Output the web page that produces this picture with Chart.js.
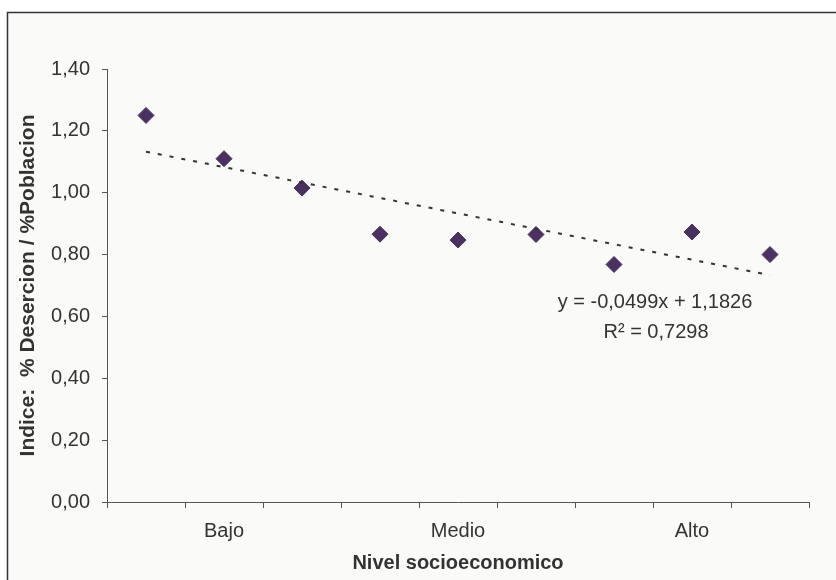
<!DOCTYPE html>
<html>
<head>
<meta charset="utf-8">
<script src="https://cdn.jsdelivr.net/npm/chart.js@4.4.1/dist/chart.umd.min.js"></script>
<style>
  html, body { margin: 0; padding: 0; background: #ffffff; }
  canvas { display: block; }
</style>
</head>
<body>
<canvas id="chart" width="836" height="580"></canvas>
<script>
// categories (only every third one is labelled, like the original sheet)
const categories = ['', 'Bajo', '', '', 'Medio', '', '', 'Alto', ''];
// Indice: % desercion / % poblacion
const indexValues = [1.25, 1.11, 1.015, 0.866, 0.847, 0.865, 0.768, 0.873, 0.80];
const yTicks = [0, 0.2, 0.4, 0.6, 0.8, 1.0, 1.2, 1.4];
// linear trend as printed on the chart
const TREND_SLOPE = -0.0499;
const TREND_INTERCEPT = 1.1826;
const TREND_R2 = 0.7298;

const TEXT = '#333333';
const AXIS = '#555555';
const MARKER = '#4b3160';
const FONT = '"Liberation Sans", Arial, sans-serif';

const fmt = v => v.toFixed(2).replace('.', ',');
const fmt4 = v => v.toFixed(4).replace('.', ',');

// trend only at both ends, the line spans the gap
const trendValues = categories.map((c, i) =>
  (i === 0 || i === categories.length - 1) ? TREND_INTERCEPT + TREND_SLOPE * (i + 1) : null
);

/* frame + background */
const framePlugin = {
  id: 'frame',
  beforeDraw(chart) {
    const ctx = chart.ctx;
    ctx.save();
    ctx.fillStyle = '#ffffff';
    ctx.fillRect(0, 0, chart.width, chart.height);
    ctx.fillStyle = '#fafaf8';
    ctx.fillRect(8, 13, chart.width - 8, chart.height - 13);
    ctx.strokeStyle = '#333333';
    ctx.lineWidth = 1.5;
    ctx.beginPath();
    ctx.moveTo(7.5, chart.height);
    ctx.lineTo(7.5, 12.5);
    ctx.lineTo(chart.width, 12.5);
    ctx.stroke();
    ctx.restore();
  }
};

/* equation label */
const equationPlugin = {
  id: 'equation',
  afterDraw(chart) {
    const ctx = chart.ctx;
    const sign = TREND_INTERCEPT >= 0 ? '+' : '-';
    ctx.save();
    ctx.fillStyle = TEXT;
    ctx.font = '20px ' + FONT;
    ctx.textAlign = 'center';
    ctx.textBaseline = 'middle';
    ctx.fillText(`y = ${fmt4(TREND_SLOPE)}x ${sign} ${fmt4(Math.abs(TREND_INTERCEPT))}`, 655, 302);
    ctx.fillText(`R² = ${fmt4(TREND_R2)}`, 656, 332);
    ctx.restore();
  }
};

new Chart(document.getElementById('chart'), {
  type: 'line',
  data: {
    labels: categories,
    datasets: [
      {
        data: trendValues,
        spanGaps: true,
        borderColor: '#333333',
        borderWidth: 2,
        borderDash: [4, 8],
        pointRadius: 0,
        fill: false,
        order: 0
      },
      {
        data: indexValues,
        showLine: false,
        pointStyle: 'rectRot',
        pointRadius: 8,
        pointBackgroundColor: MARKER,
        pointBorderColor: MARKER,
        pointBorderWidth: 1,
        order: 1
      }
    ]
  },
  options: {
    responsive: false,
    animation: false,
    layout: { padding: { left: 8, top: 69, right: 27, bottom: 0 } },
    plugins: {
      legend: { display: false },
      tooltip: { enabled: false }
    },
    scales: {
      x: {
        type: 'category',
        offset: true,
        grid: { offset: true, drawOnChartArea: false, tickLength: 6, color: AXIS },
        border: { display: true, color: AXIS, width: 1 },
        ticks: {
          autoSkip: false, maxRotation: 0, padding: 11,
          color: TEXT, font: { family: FONT, size: 20 }
        },
        title: {
          display: true, text: 'Nivel socioeconomico', color: TEXT,
          font: { family: FONT, size: 20, weight: 'bold' },
          padding: { top: 0, bottom: 5 }
        },
        afterFit(scale) { scale.height = 78; }
      },
      y: {
        min: 0,
        max: 1.4,
        grid: { drawOnChartArea: false, tickLength: 5, color: AXIS },
        border: { display: true, color: AXIS, width: 1 },
        afterBuildTicks(scale) { scale.ticks = yTicks.map(v => ({ value: v })); },
        ticks: {
          padding: 12, color: TEXT,
          font: { family: FONT, size: 20 },
          callback: v => fmt(v)
        },
        title: {
          display: true, text: 'Indice:  % Desercion / %Poblacion', color: TEXT,
          font: { family: FONT, size: 21, weight: 'bold' },
          padding: { top: 8, bottom: 0 }
        },
        afterFit(scale) { scale.width = 99; }
      }
    }
  },
  plugins: [framePlugin, equationPlugin]
});
</script>
</body>
</html>
